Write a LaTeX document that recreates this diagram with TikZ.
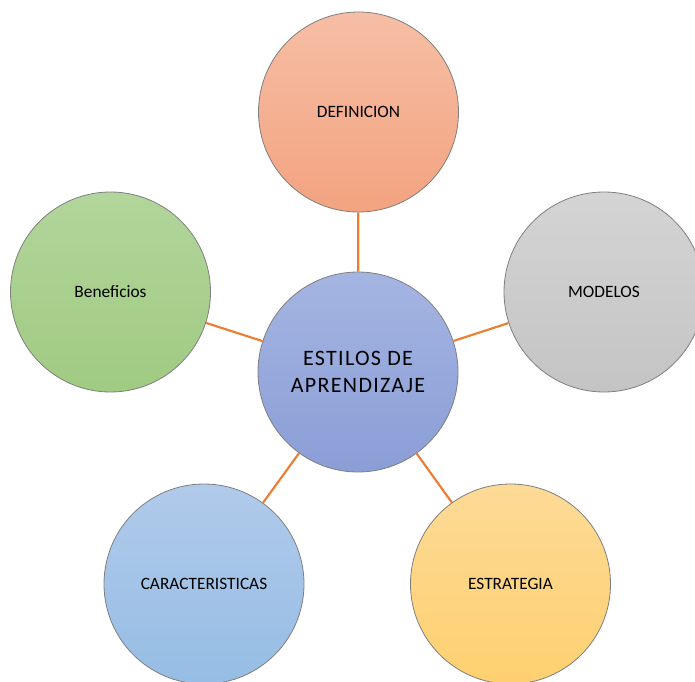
\documentclass[tikz,border=0pt]{standalone}
\usepackage{fontspec}
\setmainfont{Carlito}
\newfontfamily\anchofont[LetterSpace=6]{Carlito}
\definecolor{linea}{HTML}{ED7D31}
\definecolor{borde}{HTML}{7F7F7F}
\tikzset{
  tema/.style={circle, draw=borde, line width=0.6pt, minimum size=150pt,
    inner sep=0pt, font=\fontsize{13}{15}\selectfont},
  union/.style={draw=linea, line width=1.6pt}
}
\begin{document}
\begin{tikzpicture}[x=0.75pt,y=-0.75pt]
\clip (0,0) rectangle (695,681);

\node[tema, top color={rgb,255:red,246;green,190;blue,165}, bottom color={rgb,255:red,243;green,163;blue,128}] (def) at (358.5,112) {DEFINICION};
\node[tema, top color={rgb,255:red,212;green,212;blue,212}, bottom color={rgb,255:red,196;green,196;blue,196}] (mod) at (604,292) {MODELOS};
\node[tema, top color={rgb,255:red,178;green,213;blue,155}, bottom color={rgb,255:red,160;green,203;blue,130}] (ben) at (110.5,292) {Beneficios};
\node[tema, top color={rgb,255:red,176;green,202;blue,234}, bottom color={rgb,255:red,150;green,189;blue,228}] (car) at (204,584) {CARACTERISTICAS};
\node[tema, top color={rgb,255:red,253;green,218;blue,150}, bottom color={rgb,255:red,254;green,208;blue,112}] (est) at (510.5,584) {ESTRATEGIA};

\node[tema, align=center, font=\anchofont\fontsize{16.5}{20}\selectfont,
  top color={rgb,255:red,165;green,181;blue,226}, bottom color={rgb,255:red,138;green,158;blue,214}] (eda) at (358,372) {ESTILOS DE\\APRENDIZAJE};

\draw[union] (eda) -- (def);
\draw[union] (eda) -- (mod);
\draw[union] (eda) -- (ben);
\draw[union] (eda) -- (car);
\draw[union] (eda) -- (est);
\end{tikzpicture}
\end{document}
